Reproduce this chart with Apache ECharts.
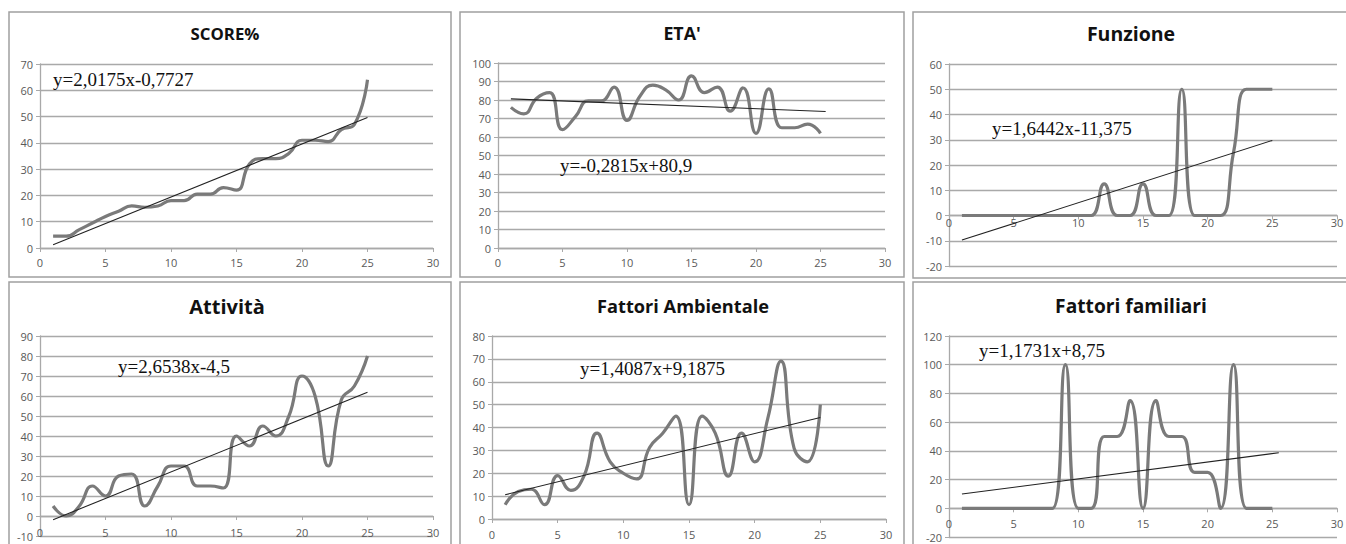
<!DOCTYPE html>
<html><head><meta charset="utf-8">
<script src="https://cdn.jsdelivr.net/npm/echarts@6/dist/echarts.min.js"></script>
<style>html,body{margin:0;padding:0;background:#fff}#c{width:1346px;height:544px}</style>
</head><body><div id="c"></div>
<script>
// ---- data ----
const xValues = [1,2,3,4,5,6,7,8,9,10,11,12,13,14,15,16,17,18,19,20,21,22,23,24,25];
const titles = ["SCORE%", "ETA'", "Funzione", "Attività", "Fattori Ambientale", "Fattori familiari"];
const equations = ["y=2,0175x-0,7727", "y=-0,2815x+80,9", "y=1,6442x-11,375", "y=2,6538x-4,5", "y=1,4087x+9,1875", "y=1,1731x+8,75"];
const scoreVals = [4.5,4.5,7,9.5,12,14,16,15.5,16,18,18,20.5,20.5,23,22,32,34,34,36,41,41,40.5,45,47,64];
const etaVals   = [76,72.5,81,84,64,71,79.5,79.5,87,69,82,88,85.5,80,93,84,87,74,86.5,62,86,65,65,67,62];
const funzVals  = [0,0,0,0,0,0,0,0,0,0,0,12.5,0,0,12.5,0,0,50,0,0,0,25,50,50,50];
const attVals   = [5,0,5,15,10,20,21,5,15,25,25,15,15,14,40,35,45,40,50,70,60,25,58,65,80];
const ambVals   = [6.25,12,13,6.25,19,12.5,18.75,37.5,25,20,17.5,31.25,37.5,45,6.25,45,37.5,18.75,37.5,25,44,69,31,25,50];
const famVals   = [0,0,0,0,0,0,0,0,100,0,0,50,50,75,0,75,50,50,25,25,0,100,0,0,0];
// trend line end points [x, y]
const scoreTrend = [[1,1.25],[25,49.66]];
const etaTrend   = [[1,80.62],[25.4,73.75]];
const funzTrend  = [[1,-9.73],[25,29.73]];
const attTrend   = [[1,-1.85],[25,61.85]];
const ambTrend   = [[1,10.6],[25,44.4]];
const famTrend   = [[1,9.92],[25.5,38.66]];
// axis ranges
const yMins = [0,0,-20,-10,0,-20];
const yMaxs = [70,100,60,90,80,120];
const yIntervals = [10,10,10,10,10,20];
const xMin = 0, xMax = 30, xInterval = 5;

const seriesVals = [scoreVals, etaVals, funzVals, attVals, ambVals, famVals];
const trends = [scoreTrend, etaTrend, funzTrend, attTrend, ambTrend, famTrend];

// ---- layout ----
const panels = [
  {x:9,y:12,w:442,h:265},{x:460,y:12,w:444,h:265},{x:913,y:12,w:440,h:266},
  {x:9,y:282,w:442,h:270},{x:460,y:282,w:444,h:270},{x:913,y:282,w:440,h:270}
];
const grids = [
  {l:40,t:64,r:433,b:248},{l:498,t:63,r:885,b:248},{l:949,t:64,r:1337,b:266},
  {l:40,t:336,r:433,b:536},{l:492,t:336,r:886,b:519},{l:949,t:336,r:1337,b:537}
];
const titlePos = [[225,35],[682,35],[1131,35],[227,308],[683,308],[1131,308]];
const titleSizes = [16.8,17.8,19.5,20,18.2,19.2];
const eqPos = [[53,79],[560,165],[992,128],[118,366],[580,368],[979,350]];
const xLabelMargin = [8.5,8.5,1,10.5,9.5,9.5];

const gridLine = '#a9a9a9';
const labelColor = '#595959';

// distance (px) from grid bottom up to the y=0 line, so the x axis sits on zero
function zeroOffset(i){
  const g = grids[i], h = g.b - g.t;
  return -h * (0 - yMins[i]) / (yMaxs[i] - yMins[i]);
}

const option = {
  backgroundColor:'#fff',
  animation:false,
  title: titles.map((t,i)=>({
    text:t, left:titlePos[i][0], top:titlePos[i][1]-titleSizes[i]*0.6, textAlign:'center', padding:0,
    textStyle:{fontFamily:'Open Sans', fontWeight:'bold', fontSize:titleSizes[i], color:'#111'}
  })),
  grid: grids.map(g=>({left:g.l, top:g.t, width:g.r-g.l, height:g.b-g.t, containLabel:false, outerBoundsMode:'none'})),
  xAxis: grids.map((g,i)=>({
    type:'value', gridIndex:i, min:xMin, max:xMax, interval:xInterval,
    position:'bottom', offset: zeroOffset(i),
    axisLine:{show:true, onZero:false, lineStyle:{color:gridLine, width:1.3}},
    axisTick:{show:true, inside:false, length:4, lineStyle:{color:gridLine}},
    splitLine:{show:false},
    axisLabel:{color:labelColor, fontSize:11, fontFamily:'Open Sans', margin:xLabelMargin[i]}
  })),
  yAxis: grids.map((g,i)=>({
    type:'value', gridIndex:i, min:yMins[i], max:yMaxs[i], interval:yIntervals[i],
    axisLine:{show:true, lineStyle:{color:gridLine, width:1.3}},
    axisTick:{show:true, length:4, lineStyle:{color:gridLine}},
    splitLine:{show:true, lineStyle:{color:gridLine, width:1.3}},
    axisLabel:{color:labelColor, fontSize:11, fontFamily:'Open Sans', margin:7}
  })),
  series: [],
  graphic: []
};

seriesVals.forEach((vals,i)=>{
  option.series.push({
    type:'line', xAxisIndex:i, yAxisIndex:i, smooth:0.5, symbol:'none',
    data: xValues.map((x,k)=>[x, vals[k]]),
    lineStyle:{color:'#7a7a7a', width:3.2}, z:3
  });
  option.series.push({
    type:'line', xAxisIndex:i, yAxisIndex:i, symbol:'none',
    data: trends[i],
    lineStyle:{color:'#222', width:1.1}, z:4
  });
});

panels.forEach(p=>{
  option.graphic.push({type:'rect', shape:{x:p.x, y:p.y, width:p.w, height:p.h},
    style:{fill:'none', stroke:'#a0a0a0', lineWidth:1.5}, z:-1, silent:true});
});
equations.forEach((e,i)=>{
  option.graphic.push({type:'text', x:eqPos[i][0], y:eqPos[i][1], z:10,
    style:{text:e, fill:'#111', font:'19px "Liberation Serif"', textVerticalAlign:'middle', textAlign:'left'}});
});

const chart = echarts.init(document.getElementById('c'), null, {renderer:'svg'});
chart.setOption(option);
</script></body></html>
